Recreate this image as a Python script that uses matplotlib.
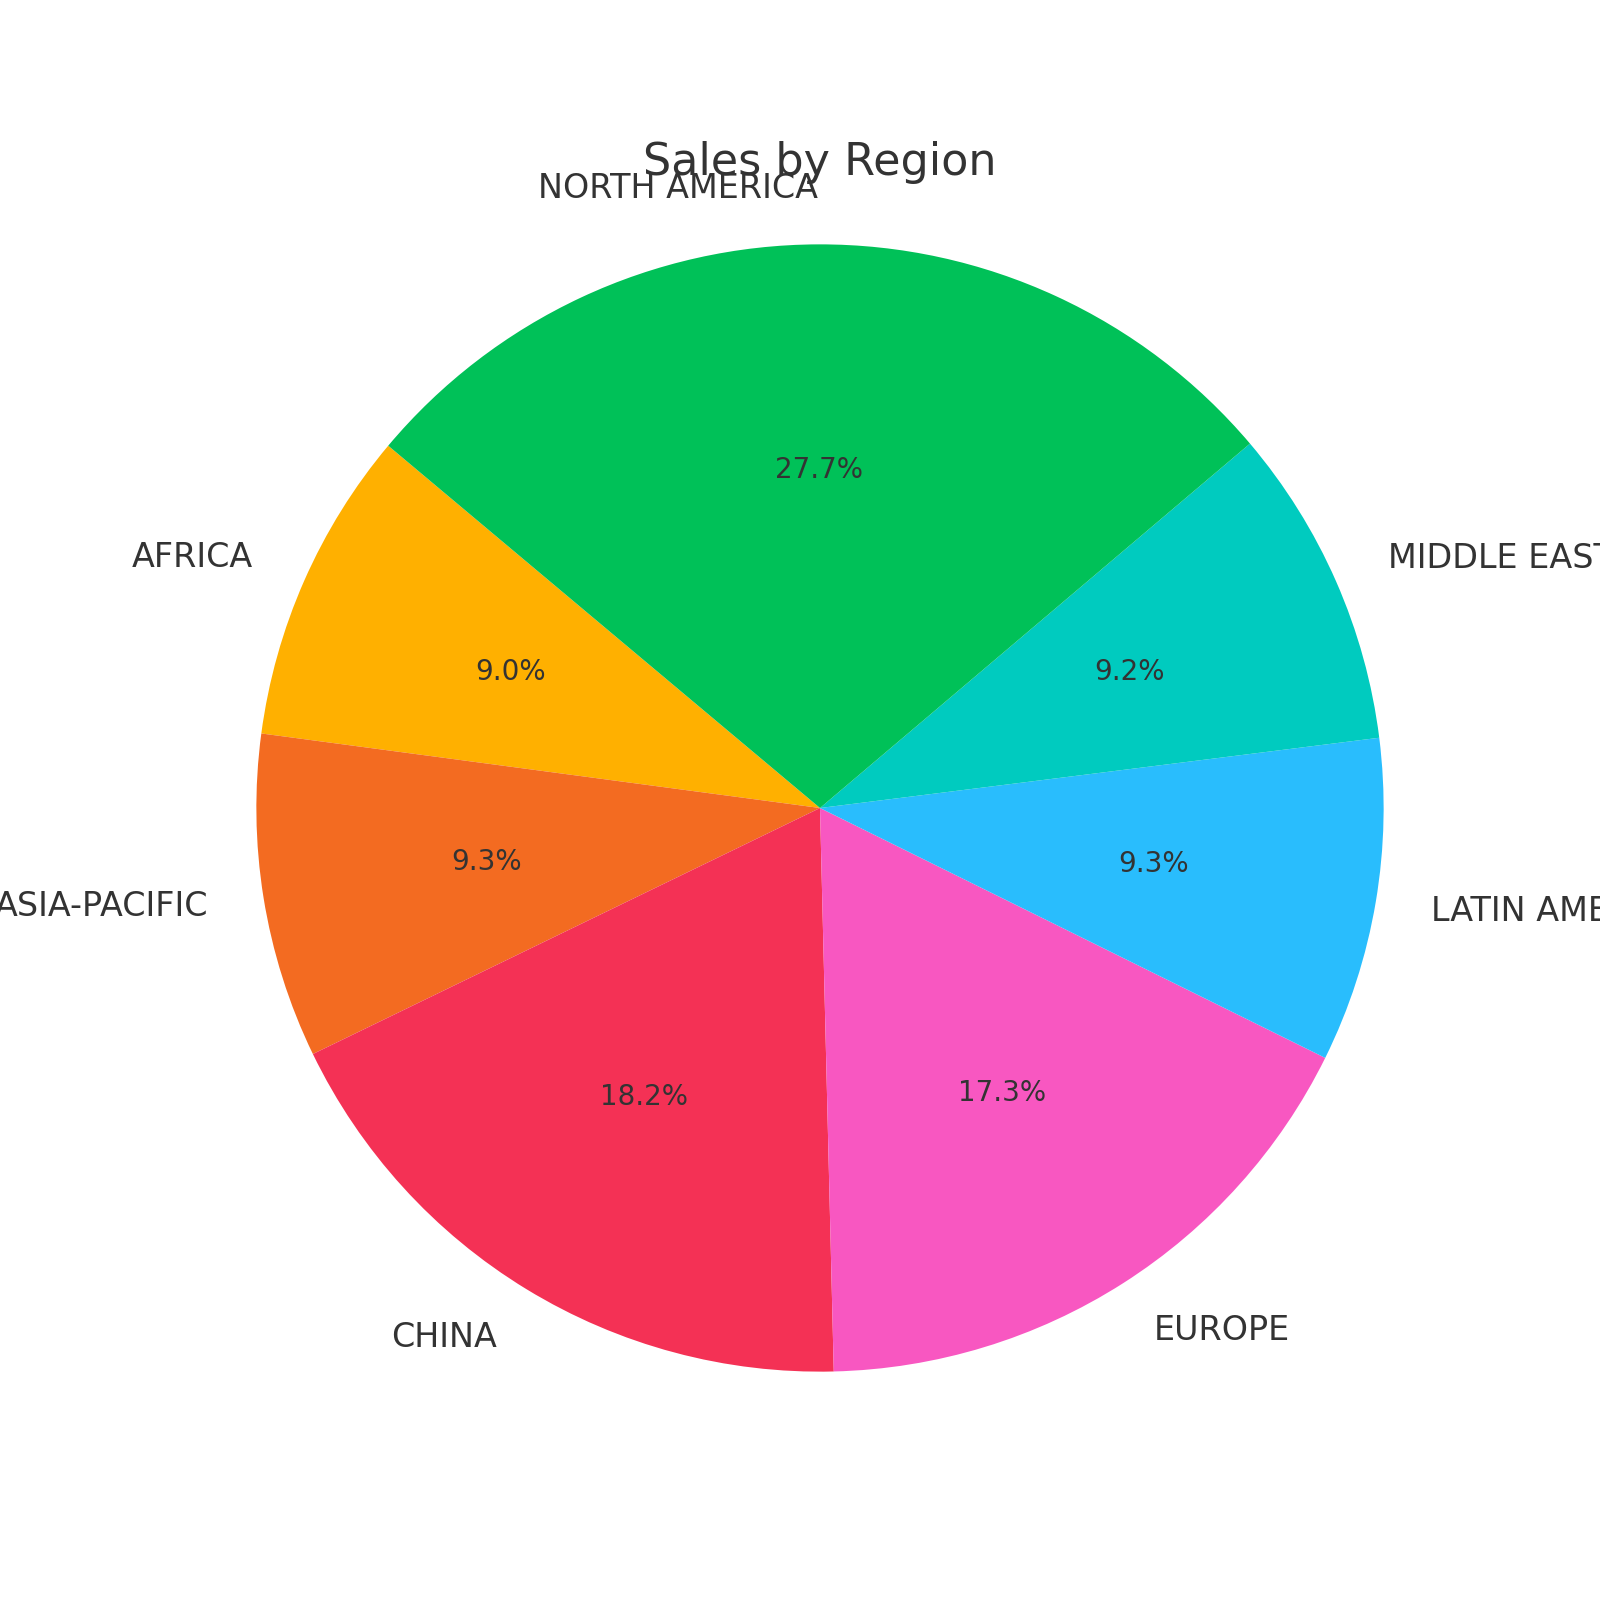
import matplotlib
matplotlib.use("Agg")
import matplotlib.pyplot as plt

# share of sales per region (percent)
regions = ["AFRICA", "ASIA-PACIFIC", "CHINA", "EUROPE",
           "LATIN AMERICA", "MIDDLE EAST", "NORTH AMERICA"]
shares = [9.0, 9.3, 18.2, 17.3, 9.3, 9.2, 27.7]
colors = ["#FFB000", "#F36B21", "#F43155", "#F857C1",
          "#29BDFD", "#00CBBF", "#00C158"]

text_color = "#333333"

fig, ax = plt.subplots(figsize=(8, 8), dpi=200)
wedges, labels, pcts = ax.pie(
    shares, labels=regions, colors=colors, autopct="%1.1f%%",
    startangle=140,
    textprops={"color": text_color, "fontsize": 12},
)
for t in pcts:
    t.set_fontsize(10)

ax.set_xlim(-1.1, 1.1)
ax.set_ylim(-1.1, 1.1)
ax.set_aspect("equal", adjustable="datalim")
ax.set_title("Sales by Region", fontsize=16, color=text_color)

plt.savefig("out.png", dpi=200)
